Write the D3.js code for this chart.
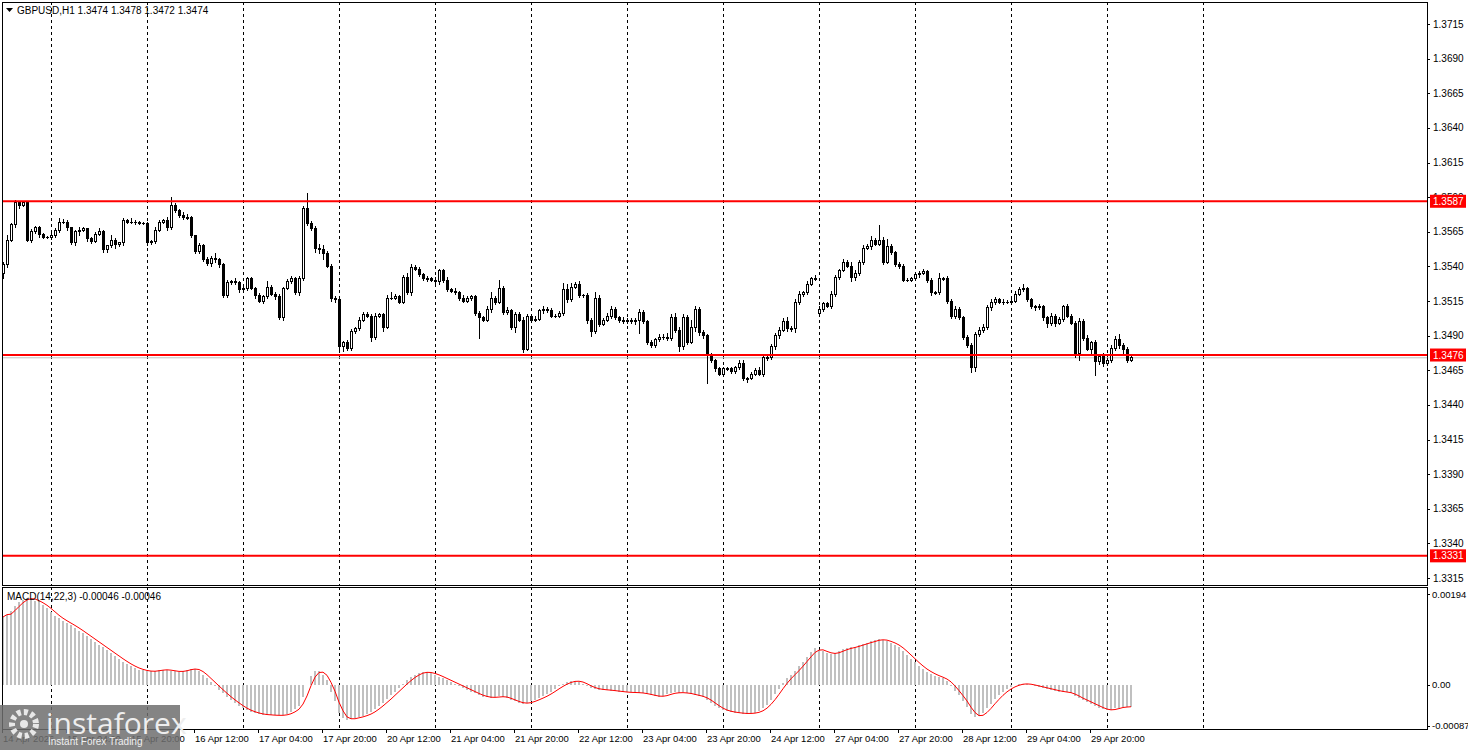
<!DOCTYPE html>
<html><head><meta charset="utf-8">
<script src="https://cdn.jsdelivr.net/npm/d3@7"></script>
<style>body{margin:0;background:#fff;}svg{display:block;font-family:"Liberation Sans",Arial,sans-serif;}</style>
</head><body>
<svg id="c" width="1468" height="750"></svg>
<script>
const closes = [1.3541,1.3559,1.3570,1.3586,1.3584,1.3586,1.3559,1.3565,1.3568,1.3563,
1.3561,1.3561,1.3562,1.3566,1.3572,1.3572,1.3568,1.3557,1.3565,1.3566,
1.3567,1.3560,1.3558,1.3563,1.3565,1.3552,1.3555,1.3559,1.3556,1.3557,
1.3573,1.3572,1.3572,1.3572,1.3571,1.3571,1.3557,1.3558,1.3566,1.3572,
1.3573,1.3568,1.3584,1.3580,1.3577,1.3575,1.3575,1.3562,1.3551,1.3555,
1.3545,1.3542,1.3546,1.3545,1.3541,1.3519,1.3528,1.3529,1.3528,1.3523,
1.3524,1.3531,1.3524,1.3519,1.3515,1.3518,1.3525,1.3520,1.3518,1.3503,
1.3524,1.3529,1.3531,1.3521,1.3531,1.3582,1.3571,1.3567,1.3553,1.3552,
1.3549,1.3540,1.3517,1.3516,1.3482,1.3485,1.3481,1.3493,1.3495,1.3501,
1.3505,1.3504,1.3489,1.3504,1.3505,1.3496,1.3517,1.3517,1.3518,1.3514,
1.3532,1.3521,1.3539,1.3538,1.3534,1.3531,1.3531,1.3530,1.3529,1.3537,
1.3530,1.3523,1.3522,1.3521,1.3517,1.3515,1.3517,1.3518,1.3506,1.3503,
1.3501,1.3509,1.3517,1.3514,1.3524,1.3507,1.3508,1.3496,1.3505,1.3501,
1.3480,1.3504,1.3501,1.3502,1.3508,1.3509,1.3508,1.3504,1.3504,1.3506,
1.3523,1.3516,1.3525,1.3527,1.3519,1.3519,1.3501,1.3493,1.3517,1.3498,
1.3501,1.3504,1.3509,1.3503,1.3501,1.3500,1.3501,1.3500,1.3501,1.3507,
1.3500,1.3485,1.3483,1.3487,1.3489,1.3489,1.3488,1.3503,1.3494,1.3482,
1.3503,1.3485,1.3496,1.3509,1.3492,1.3490,1.3476,1.3472,1.3466,1.3462,
1.3466,1.3466,1.3464,1.3467,1.3470,1.3459,1.3459,1.3462,1.3465,1.3462,
1.3474,1.3474,1.3482,1.3490,1.3494,1.3500,1.3495,1.3495,1.3514,1.3520,
1.3521,1.3527,1.3531,1.3531,1.3509,1.3513,1.3511,1.3520,1.3532,1.3537,
1.3543,1.3540,1.3532,1.3535,1.3543,1.3553,1.3554,1.3559,1.3556,1.3559,
1.3543,1.3554,1.3550,1.3541,1.3540,1.3530,1.3530,1.3531,1.3534,1.3535,
1.3536,1.3530,1.3521,1.3521,1.3531,1.3531,1.3515,1.3504,1.3509,1.3503,
1.3489,1.3483,1.3467,1.3491,1.3494,1.3496,1.3510,1.3514,1.3516,1.3514,
1.3514,1.3514,1.3515,1.3520,1.3523,1.3524,1.3516,1.3511,1.3510,1.3511,
1.3503,1.3499,1.3504,1.3499,1.3502,1.3511,1.3504,1.3499,1.3477,1.3500,
1.3488,1.3480,1.3485,1.3471,1.3475,1.3470,1.3472,1.3481,1.3487,1.3483,
1.3480,1.3472,1.3474];
const firstOpen = 1.3535;
const gapOpens = {204: 1.3506};
// wick extents in pips (base-36 digits)
const highWicks = ["3523221322","2132432123","2123421521","3242122132","2492234213","2325223242","3222326223","233232g334","5322123323","3323223632","3543223232","2323232223","2362934233","3223232323","7642323263","2332232223","2232334453","4383232222","2222332223","3333345343","2324322332","324323342g","3832322222","3222623232","2222333332","3233352223","2232223224","3323233346","232"];
const lowWicks = ["6323422324","2232323234","2332233253","3223223232","2322322233","3234333223","3324232232","3222323254","6243753332","2253252222","2232223223","322232233m","2243233362","4232232222","3322334633","223232223e","2333233335","332533u332","2222335222","3323323343","3222332333","2254332322","3232322223","2332223332","3365333332","3232222332","4534232258","325f343334","632"];
// MACD histogram in 1e-5
const macd = [145,150,158,168,176,182,186,184,180,176,170,164,156,148,142,137,132,127,122,116,
110,104,98,92,86,80,74,68,62,56,50,45,40,36,33,31,29,29,30,32,
33,32,30,29,28,30,33,35,34,30,22,14,6,-2,-10,-18,-25,-32,-38,-44,
-50,-54,-57,-60,-62,-63,-64,-64,-65,-65,-64,-62,-58,-52,-45,-25,0,20,30,30,
22,10,-15,-35,-60,-70,-74,-72,-70,-68,-66,-62,-58,-52,-44,-38,-30,-22,-14,-6,
2,10,16,22,26,28,27,25,22,18,14,10,6,2,-2,-6,-10,-14,-18,-22,
-25,-26,-27,-26,-24,-25,-28,-32,-35,-38,-40,-38,-35,-32,-28,-24,-20,-14,-8,-3,
2,6,8,9,7,3,-2,-6,-8,-10,-10,-11,-12,-13,-14,-15,-16,-16,-16,-17,
-18,-20,-22,-24,-25,-23,-20,-17,-16,-17,-16,-18,-20,-22,-24,-26,-32,-38,-44,-50,
-54,-56,-58,-59,-60,-61,-61,-60,-59,-56,-50,-42,-32,-20,-8,4,14,22,30,40,
50,60,70,78,75,72,68,66,68,72,76,78,80,82,85,88,90,93,95,98,
96,93,90,86,80,72,64,56,48,40,34,28,24,20,16,14,8,-2,-12,-22,
-34,-46,-62,-68,-66,-60,-50,-40,-30,-22,-14,-8,-4,0,2,3,2,0,-2,-4,
-6,-8,-10,-12,-14,-15,-16,-18,-24,-28,-32,-36,-40,-44,-48,-52,-54,-53,-50,-48,
-46,-47,-46];
const priceTicks = [1.3715,1.3690,1.3665,1.3640,1.3615,1.3590,1.3565,1.3540,1.3515,1.3490,1.3465,1.3440,1.3415,1.3390,1.3365,1.3340,1.3315];
const levels = [1.3587,1.3476,1.3331];
const bid = 1.3474;
const timeLabels = ["14 Apr 2026","15 Apr 04:00","15 Apr 20:00","16 Apr 12:00","17 Apr 04:00","17 Apr 20:00","20 Apr 12:00","21 Apr 04:00","21 Apr 20:00","22 Apr 12:00","23 Apr 04:00","23 Apr 20:00","24 Apr 12:00","27 Apr 04:00","27 Apr 20:00","28 Apr 12:00","29 Apr 04:00","29 Apr 20:00"];
const macdTicks = [[194,"0.00194"],[0,"0.00"],[-87,"-0.00087"]];

const svg = d3.select("#c");
const L=2,R=1427,T=2,B=585,MT=587,MB=729;
const x = d3.scaleLinear().domain([0,356]).range([3,1427]);
const y = d3.scaleLinear().domain([1.3315,1.3715]).range([578,24]);
const ym = d3.scaleLinear().domain([-87,194]).range([725.8,594]);

const hw = highWicks.join(""), lw = lowWicks.join("");
const bars = closes.map((c,i)=>{
  const o = i===0?firstOpen:(gapOpens[i]!==undefined?gapOpens[i]:closes[i-1]);
  const h = Math.max(o,c)+parseInt(hw[i]||"2",36)*0.0001*0.7;
  const l = Math.min(o,c)-parseInt(lw[i]||"2",36)*0.0001*0.7;
  return {i,o,h,l,c};
});

svg.append("rect").attr("width",1468).attr("height",750).attr("fill","#fff");
const gridIdx = d3.range(12,301,24);
[[T,B],[MT,MB]].forEach(([a,b])=>{
  svg.append("g").selectAll("line").data(gridIdx).join("line")
    .attr("x1",d=>Math.round(x(d))+0.5).attr("x2",d=>Math.round(x(d))+0.5).attr("y1",a).attr("y2",b)
    .attr("stroke","#000").attr("stroke-dasharray","3,3").attr("stroke-width",1);
});
svg.append("line").attr("x1",L).attr("x2",R).attr("y1",y(bid)).attr("y2",y(bid)).attr("stroke","#c0c0c0").attr("stroke-width",1);
const g = svg.append("g").attr("shape-rendering","crispEdges");
g.selectAll("line.w").data(bars).join("line").attr("class","w")
  .attr("x1",d=>Math.round(x(d.i))+0.5).attr("x2",d=>Math.round(x(d.i))+0.5)
  .attr("y1",d=>y(d.h)).attr("y2",d=>y(d.l)).attr("stroke","#000");
g.selectAll("rect.b").data(bars).join("rect").attr("class","b")
  .attr("x",d=>Math.round(x(d.i))-1+0.5).attr("width",2)
  .attr("y",d=>y(Math.max(d.o,d.c))).attr("height",d=>Math.max(0.5,Math.abs(y(d.o)-y(d.c))))
  .attr("fill",d=>d.c>=d.o?"#fff":"#000").attr("stroke","#000");
svg.append("g").selectAll("line").data(levels).join("line")
  .attr("x1",L).attr("x2",R).attr("y1",d=>y(d)).attr("y2",d=>y(d)).attr("stroke","#ff0000").attr("stroke-width",2);
svg.append("g").attr("shape-rendering","crispEdges").selectAll("rect").data(macd).join("rect")
  .attr("x",(d,i)=>Math.round(x(i))-1).attr("width",2)
  .attr("y",d=>Math.min(ym(d),ym(0))).attr("height",d=>Math.abs(ym(d)-ym(0)))
  .attr("fill","#c0c0c0");
const sig = macd.map((d,i)=>i<2?d:d3.mean(macd.slice(i-2,i+1)));
svg.append("path").datum(sig).attr("fill","none").attr("stroke","#ff0000").attr("stroke-width",1)
  .attr("d",d3.line().x((d,i)=>x(i)).y(d=>ym(d)));
svg.append("rect").attr("x",L+0.5).attr("y",T+0.5).attr("width",R-L).attr("height",B-T).attr("fill","none").attr("stroke","#000");
svg.append("rect").attr("x",L+0.5).attr("y",MT+0.5).attr("width",R-L).attr("height",MB-MT).attr("fill","none").attr("stroke","#000");
const ax = svg.append("g").attr("font-size",10).attr("fill","#000");
priceTicks.forEach(p=>{
  ax.append("line").attr("x1",R).attr("x2",R+3).attr("y1",Math.round(y(p))+0.5).attr("y2",Math.round(y(p))+0.5).attr("stroke","#000");
  ax.append("text").attr("x",1433).attr("y",y(p)+3.5).text(p.toFixed(4));
});
ax.append("text").attr("x",1433).attr("y",y(bid)+3.5).text(bid.toFixed(4));
levels.forEach(p=>{
  ax.append("rect").attr("x",1430).attr("y",y(p)-6.5).attr("width",36).attr("height",13).attr("fill","#ff0000");
  ax.append("text").attr("x",1433).attr("y",y(p)+3.5).attr("fill","#fff").text(p.toFixed(4));
});
macdTicks.forEach(([v,t])=>{
  ax.append("line").attr("x1",R).attr("x2",R+3).attr("y1",Math.round(ym(v))+0.5).attr("y2",Math.round(ym(v))+0.5).attr("stroke","#000");
  ax.append("text").attr("x",1432).attr("y",ym(v)+3.5).attr("font-size",9.5).text(t);
});
timeLabels.forEach((t,k)=>{
  const xi = x(16*k)-1;
  ax.append("line").attr("x1",Math.round(xi)+0.5).attr("x2",Math.round(xi)+0.5).attr("y1",MB).attr("y2",MB+4).attr("stroke","#000");
  ax.append("text").attr("x",xi+1).attr("y",742).attr("font-size",9.5).text(t);
});
svg.append("path").attr("d","M6,8 L13,8 L9.5,12 Z").attr("fill","#000");
svg.append("text").attr("x",17).attr("y",14).attr("font-size",10).text("GBPUSD,H1  1.3474 1.3478 1.3472 1.3474");
svg.append("text").attr("x",7).attr("y",600).attr("font-size",10).text("MACD(14,22,3) -0.00046 -0.00046");
const wm = svg.append("g");
wm.append("rect").attr("x",0).attr("y",705).attr("width",180).attr("height",45).attr("fill","#6e6e6e").attr("opacity",0.85);
wm.append("circle").attr("cx",24).attr("cy",724).attr("r",12).attr("fill","none").attr("stroke","#e8e8e8").attr("stroke-width",6).attr("stroke-dasharray","4,3");
wm.append("circle").attr("cx",24).attr("cy",724).attr("r",4).attr("fill","#e8e8e8");
wm.append("text").attr("x",46).attr("y",734).attr("font-size",30).attr("font-family","Open Sans, sans-serif").attr("fill","#eee").text("instaforex");
wm.append("text").attr("x",48).attr("y",745).attr("font-size",10).attr("fill","#eee").text("Instant Forex Trading");
</script>
</body></html>
